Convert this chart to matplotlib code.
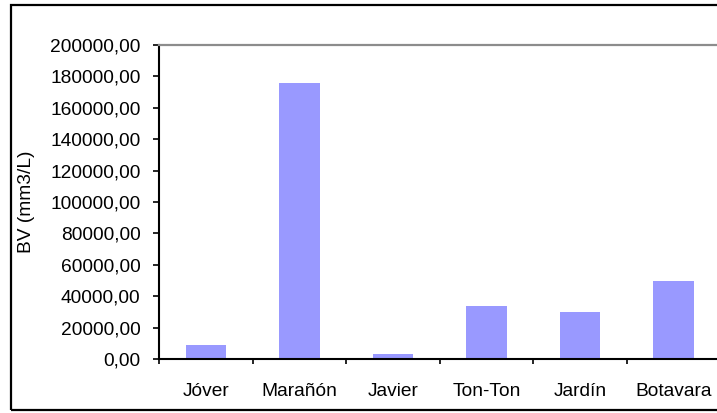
import matplotlib
matplotlib.use("Agg")
import matplotlib.pyplot as plt
from matplotlib.patches import Rectangle
from matplotlib.ticker import FuncFormatter, FixedLocator
import numpy as np

plt.rcParams['font.family'] = ['Liberation Sans', 'DejaVu Sans']

categories = ["Jóver", "Marañón", "Javier", "Ton-Ton", "Jardín", "Botavara"]
bv_values = [9100, 175600, 3400, 33900, 30100, 49800]
y_ticks = list(range(0, 200001, 20000))

fig = plt.figure(figsize=(7.17, 4.13), dpi=100)
ax = fig.add_axes([0.2222, 0.13, 0.7824, 0.7618])

x = np.arange(len(categories))
ax.bar(x, bv_values, width=0.43, color="#9999FF", zorder=2)

ax.set_xlim(-0.5, len(categories) - 0.5)
ax.set_ylim(0, 200000)

# y axis
ax.set_yticks(y_ticks)
ax.yaxis.set_major_formatter(FuncFormatter(lambda v, p: f"{v:.2f}".replace(".", ",")))
ax.tick_params(axis="y", direction="out", length=4.5, width=1.2, pad=9, labelsize=13.8)
ax.set_ylabel("BV (mm3/L)", fontsize=13.8)
ax.yaxis.set_label_coords(-0.222, 0.5)

# x axis: category labels centred, tick marks between categories
ax.set_xticks(x)
ax.set_xticklabels(categories)
ax.tick_params(axis="x", which="major", length=0, pad=17, labelsize=13.8)
ax.xaxis.set_minor_locator(FixedLocator(np.arange(-0.5, len(categories), 1.0)))
ax.tick_params(axis="x", which="minor", direction="out", length=3.5, width=1.2)

for side in ("left", "bottom"):
    ax.spines[side].set_color("black")
    ax.spines[side].set_linewidth(1.5)
ax.spines["top"].set_color("#8c8c8c")
ax.spines["top"].set_linewidth(1.6)
ax.spines["right"].set_visible(False)

# outer chart frame
fig.patches.append(Rectangle((11 / 717, 1 - 410 / 413), 1.2, (410 - 5) / 413,
                             transform=fig.transFigure, fill=False,
                             edgecolor="black", linewidth=1.6, clip_on=False))

fig.savefig("out.png", dpi=100)
